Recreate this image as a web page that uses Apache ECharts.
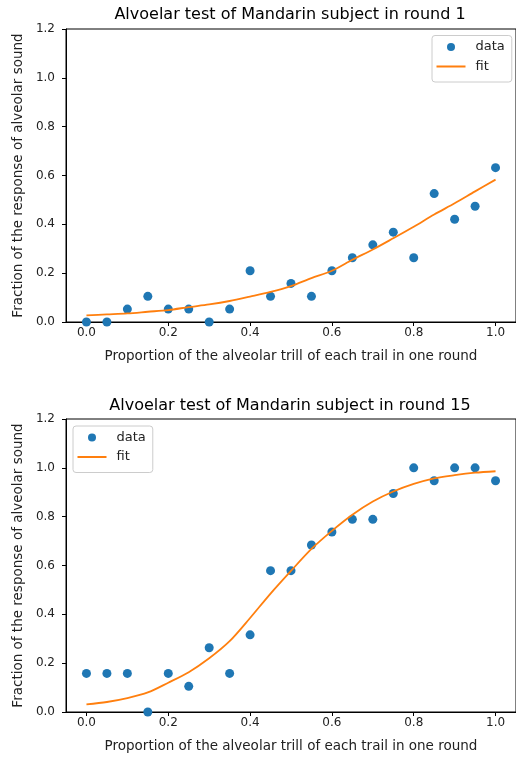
<!DOCTYPE html>
<html>
<head>
<meta charset="utf-8">
<script src="https://cdn.jsdelivr.net/npm/echarts@6/dist/echarts.min.js"></script>
<style>
  html, body { margin: 0; padding: 0; background: #fff; }
  #chart { width: 516px; height: 758px; }
</style>
</head>
<body>
<div id="chart"></div>
<script>
// proportions of the alveolar trill (x positions of the trials)
const xs = [0, 0.05, 0.1, 0.15, 0.2, 0.25, 0.3, 0.35, 0.4, 0.45, 0.5,
            0.55, 0.6, 0.65, 0.7, 0.75, 0.8, 0.85, 0.9, 0.95, 1.0]

// round 1: observed fractions and fitted curve
const round1Data = [0, 0, 0.053, 0.105, 0.053, 0.053, 0, 0.053, 0.21, 0.105, 0.158,
                    0.105, 0.21, 0.263, 0.316, 0.368, 0.263, 0.526, 0.421, 0.474, 0.632]
const round1Fit = [0.027, 0.031, 0.035, 0.042, 0.049, 0.061, 0.072, 0.086, 0.104, 0.123, 0.147,
                   0.18, 0.21, 0.255, 0.297, 0.343, 0.39, 0.44, 0.486, 0.535, 0.583]

// round 15: observed fractions and fitted curve
const round15Data = [0.158, 0.158, 0.158, 0, 0.158, 0.105, 0.263, 0.158, 0.316, 0.579, 0.579,
                     0.684, 0.737, 0.789, 0.789, 0.895, 1.0, 0.947, 1.0, 1.0, 0.947]
const round15Fit = [0.031, 0.041, 0.057, 0.08, 0.12, 0.163, 0.22, 0.29, 0.385, 0.485, 0.578,
                    0.668, 0.742, 0.808, 0.862, 0.903, 0.934, 0.957, 0.97, 0.98, 0.986]

const xTicks = [0, 0.2, 0.4, 0.6, 0.8, 1.0]

const titles = ['Alvoelar test of Mandarin subject in round 1',
                'Alvoelar test of Mandarin subject in round 15']
const xName = 'Proportion of the alveolar trill of each trail in one round'
const yName = 'Fraction of the response of alveolar sound'

const font = 'DejaVu Sans'
const blue = '#1f77b4'
const orange = '#ff7f0e'
// thin horizontal line icon for the "fit" legend entry (bbox 29 x 8)
const lineIcon = 'path://M0,3.1H29V4.9H0Z M0,0H0.01V0.01H0Z M28.99,7.99H29V8H28.99Z'

const pairs = arr => xs.map((x, i) => [x, arr[i]])

const makeX = gridIndex => ({
  type: 'value',
  gridIndex,
  min: -0.05,
  max: 1.05,
  name: xName,
  nameLocation: 'middle',
  nameGap: 27,
  nameTextStyle: { fontFamily: font, fontSize: 13.5, color: '#222' },
  axisLine: { onZero: false, lineStyle: { color: '#000', width: 1 } },
  axisTick: { show: true, length: 4, customValues: xTicks, lineStyle: { color: '#000' } },
  axisLabel: { customValues: xTicks, fontFamily: font, fontSize: 12, color: '#222',
               margin: 5, formatter: v => v.toFixed(1) },
  splitLine: { show: false }
})

const makeY = gridIndex => ({
  type: 'value',
  gridIndex,
  min: 0,
  max: 1.2,
  interval: 0.2,
  name: yName,
  nameLocation: 'middle',
  nameGap: 35,
  nameTextStyle: { fontFamily: font, fontSize: 13.5, color: '#222' },
  axisLine: { show: true, onZero: false, lineStyle: { color: '#000', width: 1 } },
  axisTick: { show: true, length: 4, lineStyle: { color: '#000' } },
  axisLabel: { fontFamily: font, fontSize: 12, color: '#222', margin: 11,
               formatter: v => v.toFixed(1) },
  splitLine: { show: false }
})

const legendBase = {
  orient: 'vertical',
  itemWidth: 29,
  itemHeight: 8,
  itemGap: 4.5,
  padding: [4, 7, 8, 4.5],
  borderColor: '#ccc',
  borderWidth: 1,
  borderRadius: 3,
  backgroundColor: 'rgba(255,255,255,0.8)',
  textStyle: { fontFamily: font, fontSize: 13, color: '#222', lineHeight: 15, padding: [0, 0, 0, 5] },
  data: [{ name: 'data', icon: 'circle' }, { name: 'fit', icon: lineIcon }]
}

const chart = echarts.init(document.getElementById('chart'))
chart.setOption({
  backgroundColor: '#fff',
  animation: false,
  title: [
    { text: titles[0], left: 290, top: 7, padding: 0, textAlign: 'center',
      textStyle: { fontFamily: font, fontSize: 16, fontWeight: 'normal', color: '#000' } },
    { text: titles[1], left: 290, top: 398, padding: 0, textAlign: 'center',
      textStyle: { fontFamily: font, fontSize: 16, fontWeight: 'normal', color: '#000' } }
  ],
  legend: [
    Object.assign({}, legendBase, { left: 432, top: 35.5 }),
    Object.assign({}, legendBase, { left: 73, top: 426 })
  ],
  grid: [
    { left: 66, top: 29, width: 453, height: 293, show: true, borderColor: '#000', borderWidth: 1 },
    { left: 66, top: 419, width: 453, height: 293, show: true, borderColor: '#000', borderWidth: 1 }
  ],
  xAxis: [makeX(0), makeX(1)],
  yAxis: [makeY(0), makeY(1)],
  series: [
    { name: 'data', type: 'scatter', xAxisIndex: 0, yAxisIndex: 0, symbolSize: 9,
      itemStyle: { color: blue, opacity: 1 }, data: pairs(round1Data), z: 3 },
    { name: 'fit', type: 'line', xAxisIndex: 0, yAxisIndex: 0, symbol: 'none', smooth: 0.3,
      lineStyle: { color: orange, width: 1.8 }, itemStyle: { color: orange },
      data: pairs(round1Fit), z: 4 },
    { name: 'data', type: 'scatter', xAxisIndex: 1, yAxisIndex: 1, symbolSize: 9,
      itemStyle: { color: blue, opacity: 1 }, data: pairs(round15Data), z: 3 },
    { name: 'fit', type: 'line', xAxisIndex: 1, yAxisIndex: 1, symbol: 'none', smooth: 0.3,
      lineStyle: { color: orange, width: 1.8 }, itemStyle: { color: orange },
      data: pairs(round15Fit), z: 4 }
  ]
})
</script>
</body>
</html>
